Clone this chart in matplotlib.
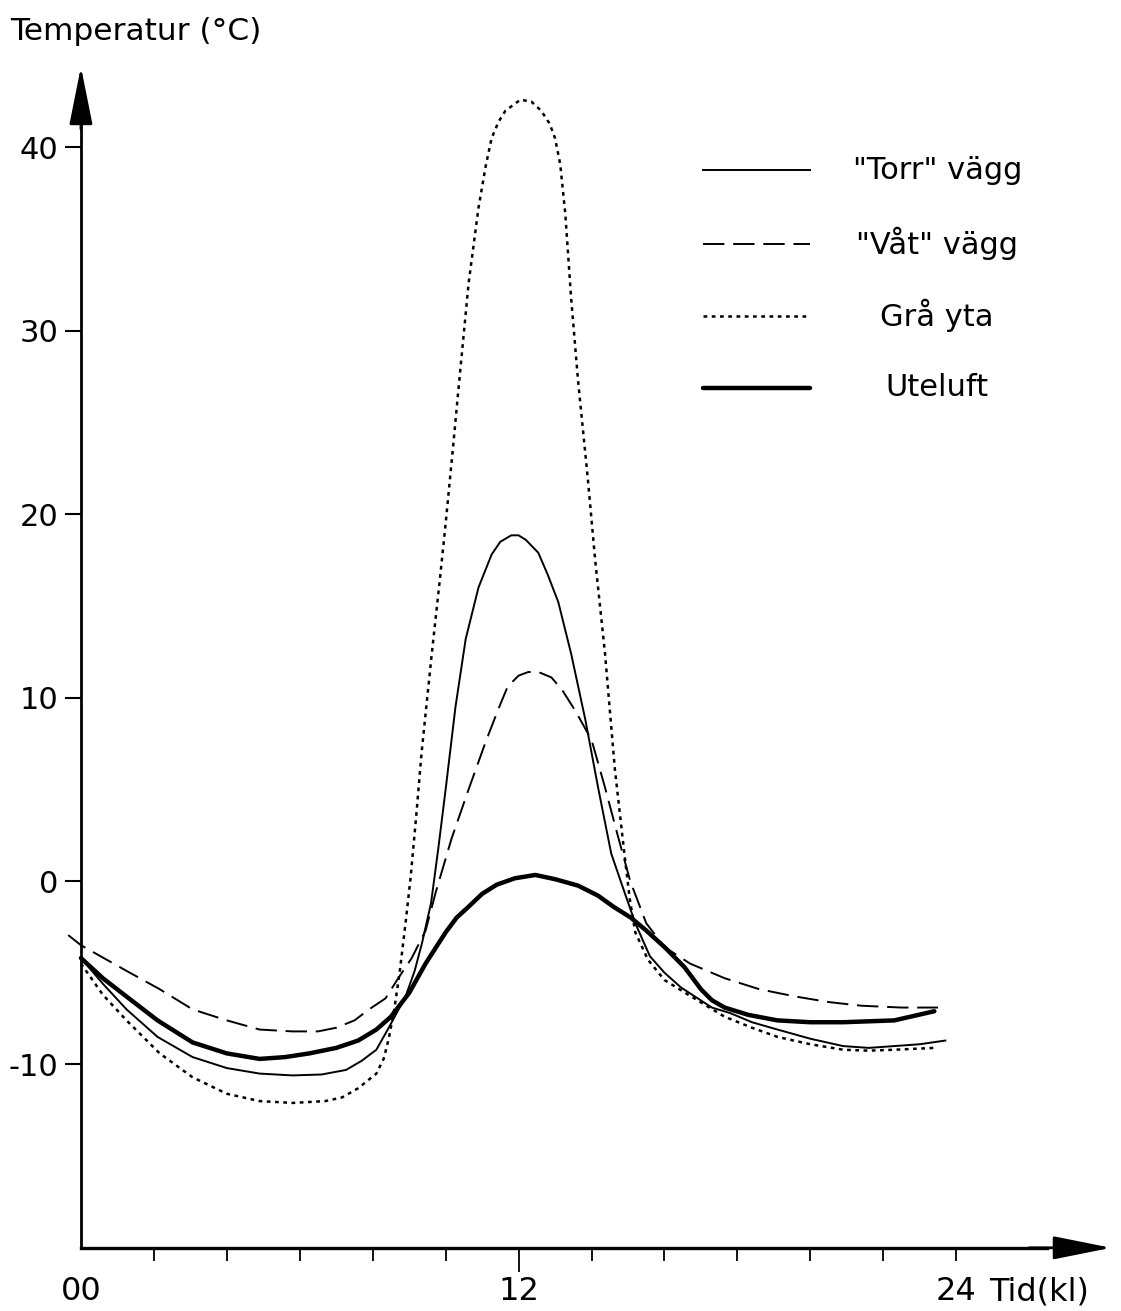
import matplotlib
matplotlib.use("Agg")
import matplotlib.pyplot as plt

# Time of day (h) and temperature (degC)
torr_t = [0, 0.6, 1.25, 2.1, 3.06, 4.0, 4.9, 5.8, 6.6, 7.27, 7.7, 8.1, 8.44,
          8.9, 9.15, 9.35, 9.6, 9.8, 10.0, 10.27, 10.55, 10.9, 11.26, 11.5,
          11.8, 12.0, 12.2, 12.54, 12.8, 13.09, 13.44, 13.83, 14.18, 14.54,
          14.85, 15.2, 15.6, 16.0, 16.45, 17.3, 17.8, 18.4, 19.1, 20.0, 20.9,
          21.6, 22.3, 23.0, 23.7]
torr_T = [-4.2, -5.6, -7.0, -8.5, -9.6, -10.2, -10.5, -10.6, -10.55, -10.3,
          -9.8, -9.2, -8.0, -6.3, -4.9, -3.4, -1.2, 1.8, 5.0, 9.5, 13.2,
          16.0, 17.8, 18.5, 18.85, 18.85, 18.6, 17.9, 16.7, 15.2, 12.4, 8.8,
          5.1, 1.5, -0.3, -2.3, -4.1, -5.0, -5.8, -6.9, -7.2, -7.7, -8.1,
          -8.6, -9.0, -9.1, -9.0, -8.9, -8.7]

vat_t = [-0.35, 0, 1.25, 2.16, 3.06, 4.0, 4.9, 5.8, 6.5, 7.0, 7.5, 7.9, 8.35,
         8.7, 9.07, 9.45, 9.73, 10.16, 10.63, 11.1, 11.45, 11.7, 12.0, 12.27,
         12.6, 12.9, 13.2, 13.55, 14.0, 14.37, 14.73, 15.06, 15.5, 16.0,
         16.7, 17.65, 18.6, 19.6, 20.5, 21.4, 22.5, 23.5]
vat_T = [-2.95, -3.5, -4.9, -5.9, -7.0, -7.6, -8.1, -8.2, -8.2, -8.0, -7.6,
         -7.0, -6.4, -5.3, -4.2, -2.7, -0.6, 2.3, 5.0, 7.6, 9.4, 10.6, 11.2,
         11.4, 11.35, 11.1, 10.4, 9.3, 7.7, 5.1, 2.4, 0.0, -2.3, -3.6, -4.5,
         -5.3, -5.9, -6.3, -6.6, -6.8, -6.9, -6.9]

gra_t = [0, 0.6, 1.25, 2.16, 3.06, 4.0, 4.9, 5.8, 6.7, 7.16, 7.6, 8.1, 8.3,
         8.44, 8.6, 8.75, 8.9, 9.04, 9.2, 9.34, 9.62, 9.85, 10.0, 10.2, 10.36,
         10.63, 10.9, 11.1, 11.26, 11.45, 11.64, 12.05, 12.35, 12.62, 12.85,
         13.0, 13.14, 13.28, 13.44, 13.63, 13.9, 14.1, 14.37, 14.64, 14.9,
         15.05, 15.2, 15.55, 16.0, 16.9, 17.65, 18.4, 19.1, 20.0, 20.9, 21.6,
         22.3, 23.4]
gra_T = [-4.5, -6.2, -7.6, -9.4, -10.7, -11.6, -12.0, -12.1, -12.0, -11.8,
         -11.3, -10.5, -9.7, -8.6, -6.9, -4.8, -2.3, 0.2, 3.7, 7.0, 12.4,
         16.6, 19.5, 23.6, 27.0, 32.6, 36.7, 39.0, 40.5, 41.4, 42.0, 42.6,
         42.5, 42.0, 41.3, 40.5, 39.1, 36.4, 31.8, 27.3, 21.9, 17.5, 12.4,
         6.1, 1.5, -1.0, -2.8, -4.3, -5.4, -6.5, -7.4, -8.0, -8.5, -8.9, -9.2,
         -9.25, -9.2, -9.1]

ute_t = [0, 0.6, 1.25, 2.1, 3.06, 4.0, 4.9, 5.6, 6.26, 7.0, 7.6, 8.1, 8.5,
         9.0, 9.45, 10.0, 10.3, 10.63, 11.0, 11.4, 11.9, 12.46, 13.0, 13.63,
         14.18, 14.6, 15.08, 15.5, 16.0, 16.55, 17.0, 17.3, 17.65, 18.3,
         19.1, 20.0, 20.9, 21.6, 22.3, 23.4]
ute_T = [-4.2, -5.3, -6.3, -7.6, -8.8, -9.4, -9.7, -9.6, -9.4, -9.1, -8.7,
         -8.1, -7.4, -6.1, -4.5, -2.8, -2.0, -1.4, -0.7, -0.2, 0.15, 0.33,
         0.1, -0.25, -0.8, -1.4, -2.0, -2.7, -3.6, -4.7, -5.9, -6.5, -6.9,
         -7.3, -7.6, -7.7, -7.7, -7.65, -7.6, -7.1]

y_ticks = [-10, 0, 10, 20, 30, 40]
x_ticks = list(range(0, 25, 2))
x_labels = ["00", "", "", "", "", "", "12", "", "", "", "", "", "24"]
legend_labels = ['"Torr" vägg', '"Våt" vägg', "Grå yta", "Uteluft"]

fig = plt.figure(figsize=(11.21, 13.11), dpi=100)
ax = fig.add_axes([0.0592, 0.0482, 0.9337, 0.9023])

thin = dict(color="k", lw=1.4, ls="-")
dashed = dict(color="k", lw=1.4, ls=(0, (11, 4.5)))
dotted = dict(color="k", lw=1.8, ls=(0, (1.5, 1.8)))
thick = dict(color="k", lw=3.2, ls="-", solid_capstyle="round")
styles = [thin, dashed, dotted, thick]

ax.plot(gra_t, gra_T, **dotted)
ax.plot(vat_t, vat_T, clip_on=False, **dashed)
ax.plot(torr_t, torr_T, **thin)
ax.plot(ute_t, ute_T, **thick)

ax.set_xlim(-0.4, 28.3)
ax.set_ylim(-20, 44.5)

# axes drawn as arrows from the origin
for s in ["top", "right"]:
    ax.spines[s].set_visible(False)
ax.spines["left"].set_position(("data", 0))
ax.spines["left"].set_bounds(-20, 42)
ax.spines["bottom"].set_bounds(0, 26.5)
ax.spines["left"].set_linewidth(2)
ax.spines["bottom"].set_linewidth(2.4)

arrow = dict(arrowstyle="-|>,head_length=2.0,head_width=0.4",
             color="k", lw=2, shrinkA=0, shrinkB=0, mutation_scale=18)
ax.annotate("", xy=(28.25, -20), xytext=(26, -20), arrowprops=arrow,
            annotation_clip=False)
ax.annotate("", xy=(0, 44.4), xytext=(0, 41), arrowprops=arrow,
            annotation_clip=False)

ax.set_yticks(y_ticks)
ax.set_yticklabels([str(v) for v in y_ticks], fontsize=22)
ax.tick_params(axis="y", direction="out", length=11.5, width=1.5, pad=5)

ax.set_xticks(x_ticks)
ax.set_xticklabels(x_labels, fontsize=23)
ax.tick_params(axis="x", direction="out", length=9.4, width=1.3, pad=11)
xt = ax.xaxis.get_major_ticks()
xt[0].tick1line.set_visible(False)
xt[6].tick1line.set_markersize(17)

ax.annotate("Tid(kl)", xy=(24.9, 0), xycoords=("data", "axes fraction"),
            xytext=(0, -21), textcoords="offset points", va="top",
            ha="left", fontsize=23)

fig.text(0.009, 0.9756, "Temperatur (°C)", fontsize=22.5, va="center", ha="left")

# legend
leg_y = [0.911, 0.849, 0.788, 0.727]
for lab, st, yy in zip(legend_labels, styles, leg_y):
    ax.plot([0.608, 0.710], [yy, yy], transform=ax.transAxes, **st)
    ax.text(0.832, yy, lab, transform=ax.transAxes, ha="center",
            va="center", fontsize=22)

fig.savefig("out.png", dpi=100, facecolor="white")
